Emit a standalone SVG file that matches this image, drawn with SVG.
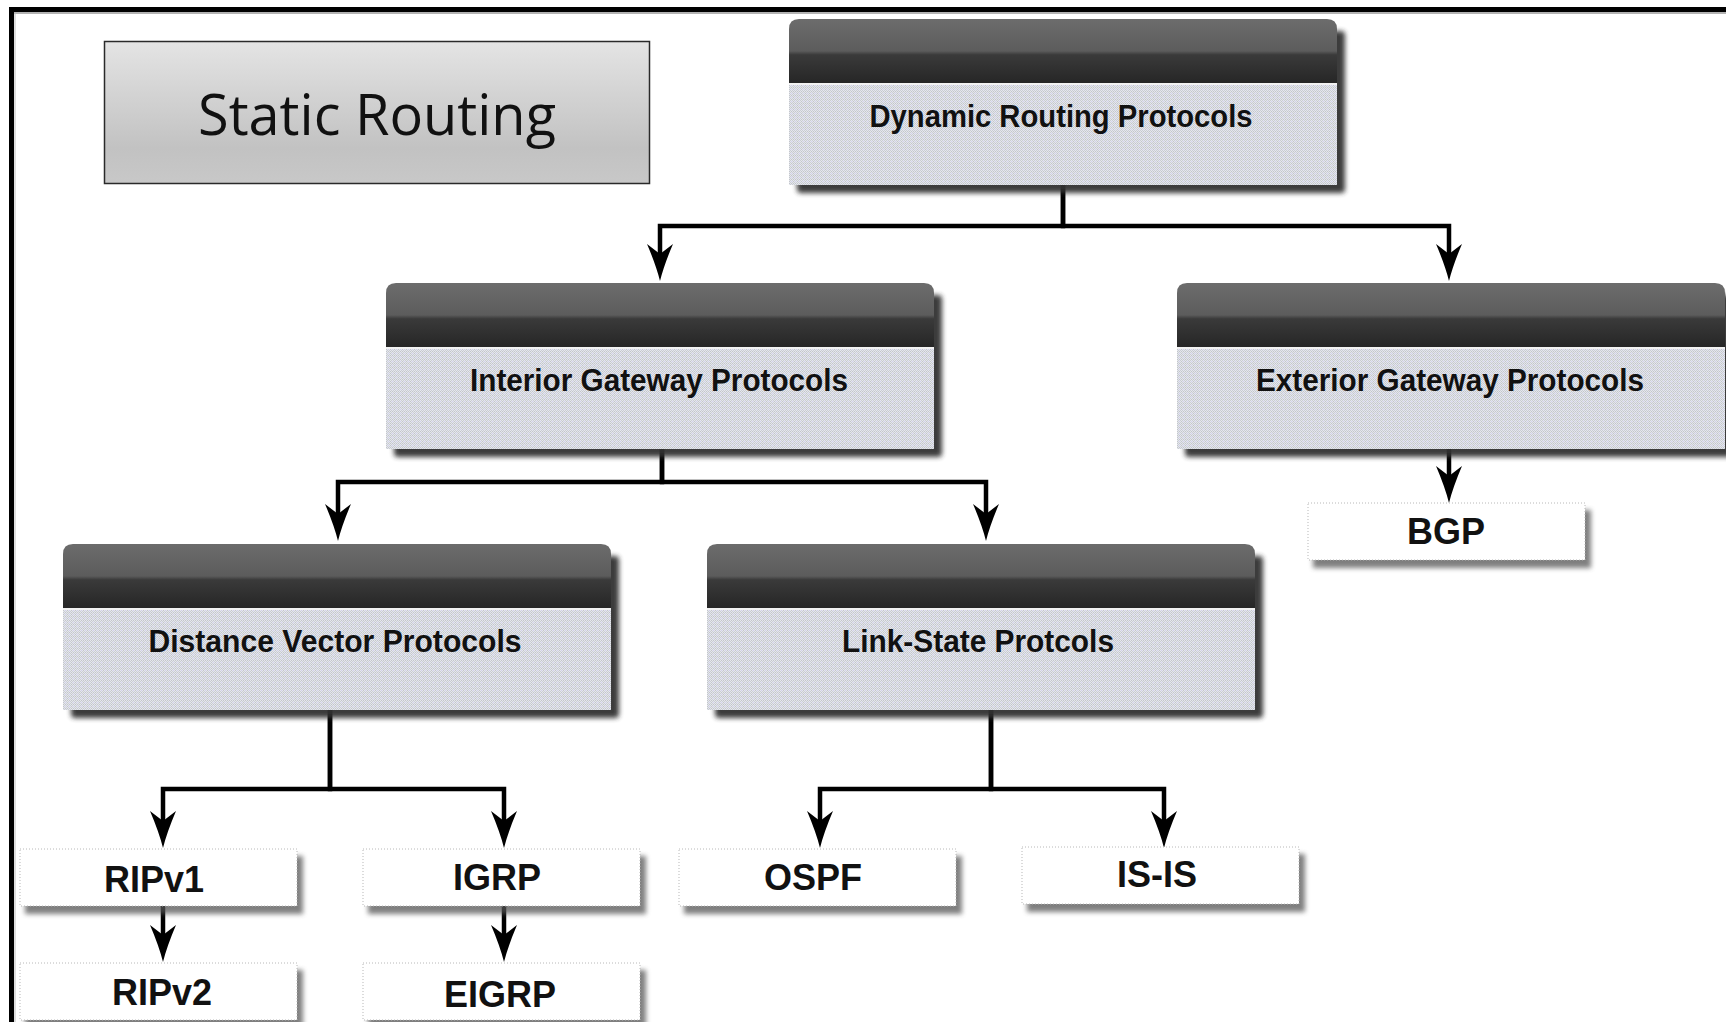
<svg xmlns="http://www.w3.org/2000/svg" xmlns:xlink="http://www.w3.org/1999/xlink" width="1726" height="1022" viewBox="0 0 1726 1022">
  <style>
    .big { font-family: "Liberation Sans", Arial, sans-serif; font-weight: bold; font-size: 31px; fill: #111; text-anchor: middle; }
    .small { font-family: "Liberation Sans", Arial, sans-serif; font-weight: bold; font-size: 36px; fill: #111; text-anchor: middle; }
    .title { font-family: "Open Sans", "Noto Sans", sans-serif; font-size: 56px; fill: #111; text-anchor: middle; }
    .wire { fill: none; stroke: #000; stroke-width: 4.5; stroke-linejoin: miter; marker-end: url(#arrow); }
  </style>
  <defs>
    <!-- dithered light body fill -->
    <pattern id="dither" width="4" height="4" patternUnits="userSpaceOnUse">
      <rect width="4" height="4" fill="#e4e7ed"/>
      <rect x="0" y="0" width="1" height="1" fill="#c4c6cb"/>
      <rect x="2" y="0" width="1" height="1" fill="#c4c6cb"/>
      <rect x="1" y="1" width="1" height="1" fill="#cbced4"/>
      <rect x="3" y="1" width="1" height="1" fill="#cbced4"/>
      <rect x="0" y="2" width="1" height="1" fill="#c4c6cb"/>
      <rect x="2" y="2" width="1" height="1" fill="#d2cfee"/>
      <rect x="1" y="3" width="1" height="1" fill="#cbced4"/>
      <rect x="3" y="3" width="1" height="1" fill="#cbced4"/>
    </pattern>
    <linearGradient id="hdr" x1="0" y1="0" x2="0" y2="1">
      <stop offset="0" stop-color="#6c6c6c"/>
      <stop offset="0.5" stop-color="#5c5c5c"/>
      <stop offset="0.56" stop-color="#3a3a3a"/>
      <stop offset="1" stop-color="#262626"/>
    </linearGradient>
    <linearGradient id="staticFill" x1="0" y1="0" x2="0" y2="1">
      <stop offset="0" stop-color="#e4e4e4"/>
      <stop offset="0.75" stop-color="#c2c2c2"/>
      <stop offset="1" stop-color="#c8c8c8"/>
    </linearGradient>
    <filter id="soft" x="-5%" y="-20%" width="110%" height="140%">
      <feGaussianBlur stdDeviation="2.5"/>
    </filter>
    <marker id="arrow" markerUnits="userSpaceOnUse" markerWidth="44" markerHeight="32" viewBox="-22 -16 44 32" refX="0" refY="0" orient="auto" overflow="visible">
      <path d="M20,0 Q4,-4 -17,-13 L-7,0 L-17,13 Q4,4 20,0 Z" fill="#000"/>
    </marker>
    <!-- category box: dark header band over a light body, with drop shadow -->
    <g id="bigBox">
      <rect x="8" y="12" width="548" height="162" rx="4" fill="#333" opacity="0.95" filter="url(#soft)"/>
      <rect x="0" y="64" width="548" height="102" fill="url(#dither)"/>
      <path d="M0,64 V10 Q0,0 10,0 H538 Q548,0 548,10 V64 Z" fill="url(#hdr)"/>
      <rect x="0" y="64" width="548" height="2" fill="#f2f2f2"/>
    </g>
    <!-- protocol leaf box -->
    <g id="leafBox">
      <rect x="5" y="7" width="278" height="58" fill="#555" opacity="0.75" filter="url(#soft)"/>
      <rect x="0" y="0" width="277" height="57" fill="#fff" stroke="#b8b8b8" stroke-width="1" stroke-dasharray="1 2"/>
    </g>
  </defs>

  <rect width="1726" height="1022" fill="#fff"/>

  <!-- page frame -->
  <g id="frame">
    <rect x="11.5" y="9.5" width="1780" height="1080" fill="none" stroke="#000" stroke-width="5"/>
    <line x1="14" y1="13" x2="1726" y2="13" stroke="#9a9a9a" stroke-width="1.5"/>
    <line x1="15" y1="13" x2="15" y2="1022" stroke="#bdbdbd" stroke-width="1"/>
  </g>

  <g id="static-routing">
    <rect x="104.5" y="41.5" width="545" height="142" fill="url(#staticFill)" stroke="#2a2a2a" stroke-width="1.5"/>
    <text class="title" x="377" y="135" textLength="358" lengthAdjust="spacingAndGlyphs">Static Routing</text>
  </g>

  <g id="connectors">
    <path class="wire" d="M1063,185 V226 H660 V261"/>
    <path class="wire" d="M1063,185 V226 H1449 V261"/>
    <path class="wire" d="M662,449 V482 H338 V521"/>
    <path class="wire" d="M662,449 V482 H986 V521"/>
    <path class="wire" d="M1449,449 V483"/>
    <path class="wire" d="M330,710 V789 H163 V828"/>
    <path class="wire" d="M330,710 V789 H504 V828"/>
    <path class="wire" d="M991,710 V789 H820 V828"/>
    <path class="wire" d="M991,710 V789 H1164 V828"/>
    <path class="wire" d="M163,906 V942"/>
    <path class="wire" d="M504,906 V942"/>
  </g>

  <g id="dynamic" transform="translate(789,19)">
    <use href="#bigBox"/>
    <text class="big" x="272" y="108" textLength="383" lengthAdjust="spacingAndGlyphs">Dynamic Routing Protocols</text>
  </g>
  <g id="interior" transform="translate(386,283)">
    <use href="#bigBox"/>
    <text class="big" x="273" y="108" textLength="378" lengthAdjust="spacingAndGlyphs">Interior Gateway Protocols</text>
  </g>
  <g id="exterior" transform="translate(1177,283)">
    <use href="#bigBox"/>
    <text class="big" x="273" y="108" textLength="388" lengthAdjust="spacingAndGlyphs">Exterior Gateway Protocols</text>
  </g>
  <g id="distance-vector" transform="translate(63,544)">
    <use href="#bigBox"/>
    <text class="big" x="272" y="108" textLength="373" lengthAdjust="spacingAndGlyphs">Distance Vector Protocols</text>
  </g>
  <g id="link-state" transform="translate(707,544)">
    <use href="#bigBox"/>
    <text class="big" x="271" y="108" textLength="272" lengthAdjust="spacingAndGlyphs">Link-State Protcols</text>
  </g>

  <g id="bgp" transform="translate(1308,503)">
    <use href="#leafBox"/>
    <text class="small" x="138" y="41">BGP</text>
  </g>
  <g id="ripv1" transform="translate(20,849)">
    <use href="#leafBox"/>
    <text class="small" x="134" y="43">RIPv1</text>
  </g>
  <g id="igrp" transform="translate(363,849)">
    <use href="#leafBox"/>
    <text class="small" x="134" y="41">IGRP</text>
  </g>
  <g id="ospf" transform="translate(679,849)">
    <use href="#leafBox"/>
    <text class="small" x="134" y="41">OSPF</text>
  </g>
  <g id="is-is" transform="translate(1022,847)">
    <use href="#leafBox"/>
    <text class="small" x="135" y="40">IS-IS</text>
  </g>
  <g id="ripv2" transform="translate(20,963)">
    <use href="#leafBox"/>
    <text class="small" x="142" y="42">RIPv2</text>
  </g>
  <g id="eigrp" transform="translate(363,963)">
    <use href="#leafBox"/>
    <text class="small" x="137" y="44">EIGRP</text>
  </g>
</svg>
